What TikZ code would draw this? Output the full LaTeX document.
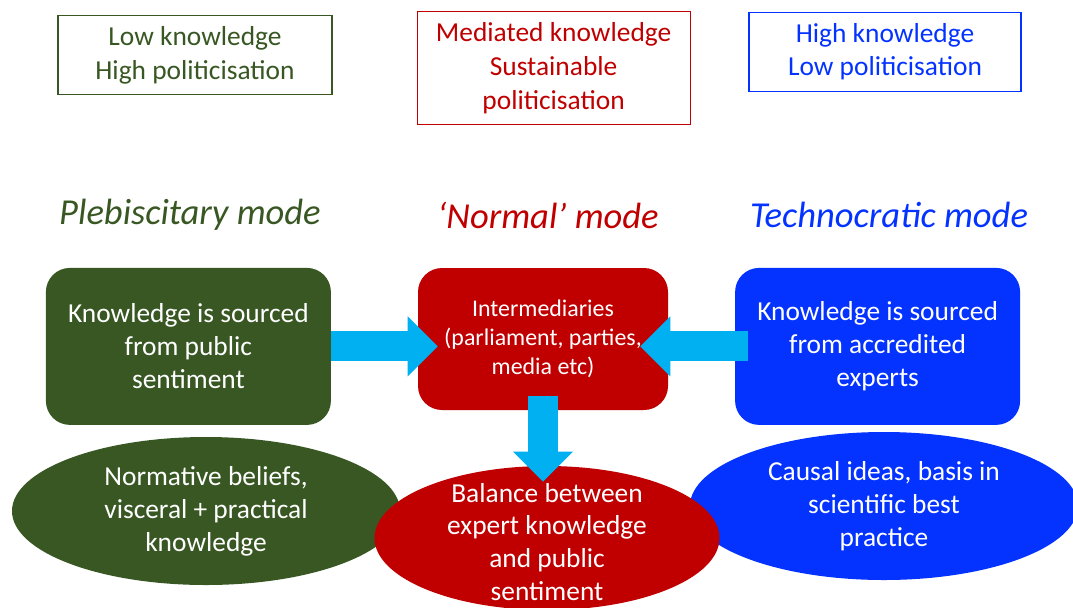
\documentclass[tikz,border=0pt]{standalone}
\usepackage{fontspec}
\setmainfont{Carlito}
\usetikzlibrary{arrows.meta,shapes.geometric}

\definecolor{plebgreen}{HTML}{385723}
\definecolor{normred}{HTML}{C00000}
\definecolor{techblue}{HTML}{0433FF}
\definecolor{flowcyan}{HTML}{00B0F0}

\begin{document}
\begin{tikzpicture}

    % --- Styles ---
    \tikzset{
        % Kennzeichnung oben (Wissen / Politisierung)
        keybox/.style={
            draw,
            fill=white,
            line width=0.8pt,
            align=center,
            inner sep=0pt,
            font=\fontsize{19.5}{24}\selectfont
        },
        % Ueberschrift je Modus
        modetitle/.style={
            font=\fontsize{26}{30}\selectfont\itshape
        },
        % Kasten: Quelle des Wissens
        sourcebox/.style={
            rounded corners=0.6cm,
            align=center,
            text=white,
            inner sep=0pt,
            minimum width=7.125cm,
            minimum height=3.925cm,
            font=\fontsize{19.5}{23.4}\selectfont
        },
        % Ellipse: Art des Wissens
        basis/.style={
            ellipse,
            inner sep=0pt
        },
        basistext/.style={
            text=white,
            align=center,
            font=\fontsize{19.5}{23.4}\selectfont
        },
        % breite Pfeile
        flow/.style={
            draw=flowcyan,
            line width=0.75cm,
            -{Triangle[length=0.75cm, width=1.5cm, line width=0pt]}
        }
    }

    \useasboundingbox (0,0) rectangle (26.825,-15.175);

    % --- 1. Kennzeichnung oben ---
    \node[keybox, draw=plebgreen, text=plebgreen, minimum width=6.85cm, minimum height=1.975cm]
        (plebkey) at (4.875,-1.375) {Low knowledge\\High politicisation};
    \node[keybox, draw=normred, text=normred, minimum width=6.825cm, minimum height=2.825cm]
        (normkey) at (13.84,-1.71) {Mediated knowledge\\Sustainable\\politicisation};
    \node[keybox, draw=techblue, text=techblue, minimum width=6.8cm, minimum height=1.975cm]
        (techkey) at (22.125,-1.29) {High knowledge\\Low politicisation};

    % --- 2. Modi ---
    \node[modetitle, text=plebgreen] (plebtitle) at (4.75,-5.375) {Plebiscitary mode};
    \node[modetitle, text=normred] (normtitle) at (13.7,-5.375) {‘Normal’ mode};
    \node[modetitle, text=techblue] (techtitle) at (22.225,-5.375) {Technocratic mode};

    % --- 3. Art des Wissens (Ellipsen) ---
    \node[basis, fill=plebgreen, minimum width=9.7cm, minimum height=3.7cm,
        label={[basistext]center:Normative beliefs,\\visceral + practical\\knowledge}]
        (plebell) at (5.15,-12.775) {};
    \node[basis, fill=techblue, minimum width=9.7cm, minimum height=3.7cm,
        label={[basistext]center:Causal ideas, basis in\\scientific best\\practice}]
        (techell) at (22.1,-12.65) {};
    \node[basis, fill=normred, minimum width=8.625cm, minimum height=3.6cm,
        label={[basistext, yshift=-0.1cm]center:Balance between\\expert knowledge\\and public\\sentiment}]
        (normell) at (13.675,-13.45) {};

    % --- 4. Quelle des Wissens ---
    \node[sourcebox, fill=plebgreen] (plebbox) at (4.71,-8.66)
        {Knowledge is sourced\\from public\\sentiment};
    \node[sourcebox, fill=normred, minimum width=6.25cm, minimum height=3.55cm,
        font=\fontsize{17}{20.5}\selectfont] (normbox) at (13.575,-8.475)
        {Intermediaries\\(parliament, parties,\\media etc)};
    \node[sourcebox, fill=techblue] (techbox) at (21.94,-8.66)
        {Knowledge is sourced\\from accredited\\experts};

    % --- 5. Pfeile ---
    \draw[flow] (plebbox.east) -- ([xshift=0.5cm]normbox.west |- plebbox.east);
    \draw[flow] ([xshift=0.33cm]techbox.west) -- ([xshift=-0.7cm]normbox.east |- techbox.west);
    \draw[flow] ([yshift=0.35cm]normbox.south) -- ([yshift=-0.4cm]normbox.south |- normell.north);

\end{tikzpicture}
\end{document}
